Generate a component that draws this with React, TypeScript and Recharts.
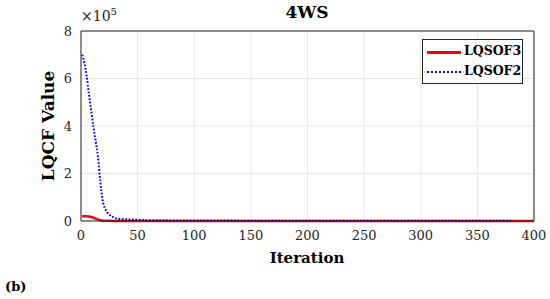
import { LineChart, Line, XAxis, YAxis, CartesianGrid, ReferenceLine } from 'recharts';

// iteration samples (x axis)
const iterations = [1, 3, 5, 7, 9, 11, 13, 15, 17, 19, 21, 23, 25, 28, 31, 35, 40, 45, 50, 60, 70, 80, 100, 150, 200, 250, 300, 350, 380, 400];
// LQSOF2 (blue, dotted), in units of 1e5
const lqsof2 = [7.0, 6.65, 6.1, 5.35, 4.65, 3.95, 3.35, 2.7, 1.7, 0.9, 0.55, 0.38, 0.27, 0.17, 0.11, 0.085, 0.07, 0.06, 0.05, 0.035, 0.03, 0.025, 0.02, 0.015, 0.012, 0.01, 0.01, 0.01, 0.01, null];
// LQSOF3 (red, solid), in units of 1e5
const lqsof3 = [0.2, 0.2, 0.2, 0.19, 0.17, 0.14, 0.1, 0.06, 0.03, 0.015, 0.01, 0.008, 0.006, 0.005, 0.005, 0.004, 0.004, 0.004, 0.003, 0.003, 0.003, 0.003, 0.002, 0.002, 0.002, 0.002, 0.002, 0.002, 0.002, 0.002];

const xTicks = [0, 50, 100, 150, 200, 250, 300, 350, 400];
const yTicks = [0, 2, 4, 6, 8];

const data = iterations.map((it, i) => ({
  it,
  LQSOF2: lqsof2[i] == null ? null : lqsof2[i]! * 1e5,
  LQSOF3: lqsof3[i] * 1e5,
}));

const serif = "'DejaVu Serif', 'Liberation Serif', serif";

// tick text drawn by hand so the serif font sticks
const SerifTick = (props: any) => {
  const { x, y, payload, textAnchor, tickFormatter } = props;
  const label = tickFormatter ? tickFormatter(payload.value) : payload.value;
  return (
    <text x={x} y={y} textAnchor={textAnchor} fill="#262626" fontSize={13} fontFamily="DejaVu Serif" dominantBaseline="central">
      {label}
    </text>
  );
};

export default function App() {
  return (
    <div style={{ position: 'absolute', left: 0, top: 0, width: 550, height: 299, background: '#fff', fontFamily: serif }}>
      <LineChart width={550} height={299} data={data} margin={{ top: 31, right: 16, bottom: 48, left: 21 }}>
        <CartesianGrid stroke="#e6e6e6" strokeWidth={1} />
        <XAxis
          type="number"
          dataKey="it"
          domain={[0, 400]}
          ticks={xTicks}
          height={30}
          tick={(p: any) => <SerifTick {...p} y={p.y + 6} />}
          tickLine={false}
          stroke="#262626"
        />
        <YAxis
          type="number"
          domain={[0, 800000]}
          ticks={yTicks.map((t) => t * 1e5)}
          tick={(p: any) => <SerifTick {...p} x={p.x - 1} tickFormatter={(v: number) => String(v / 1e5)} />}
          width={60}
          tickLine={false}
          stroke="#262626"
        />
        <ReferenceLine y={800000} stroke="#262626" />
        <ReferenceLine x={400} stroke="#262626" />
        <Line dataKey="LQSOF3" stroke="#ff0000" strokeWidth={2.5} dot={false} isAnimationActive={false} type="monotone" />
        <Line dataKey="LQSOF2" stroke="#0000ff" strokeWidth={2} strokeDasharray="1.7 1.7" dot={false} isAnimationActive={false} type="monotone" connectNulls={false} />
      </LineChart>

      <div style={{ position: 'absolute', left: 0, width: 614, top: 2, textAlign: 'center', fontWeight: 'bold', fontSize: 17, color: '#000' }}>4WS</div>
      <div style={{ position: 'absolute', left: 81, top: 6, fontSize: 14, color: '#262626' }}>
        ×10<sup style={{ fontSize: 10 }}>5</sup>
      </div>
      <div
        style={{
          position: 'absolute', left: 48, top: 126, transform: 'translate(-50%, -50%) rotate(-90deg)',
          whiteSpace: 'nowrap', fontWeight: 'bold', fontSize: 17, color: '#000',
        }}
      >
        LQCF Value
      </div>
      <div style={{ position: 'absolute', left: 0, width: 614, top: 249, textAlign: 'center', fontWeight: 'bold', fontSize: 15, color: '#000' }}>Iteration</div>
      <div style={{ position: 'absolute', left: 5, top: 279, fontWeight: 'bold', fontSize: 13, color: '#000' }}>(b)</div>

      <div
        style={{
          position: 'absolute', left: 422, top: 39, width: 101, height: 45, background: '#fff',
          border: '1px solid #262626', boxSizing: 'border-box', fontWeight: 'bold', fontSize: 12.5, color: '#000',
        }}
      >
        <div style={{ position: 'absolute', left: 4, top: 11, width: 34, height: 2.5, background: '#ff0000' }} />
        <div style={{ position: 'absolute', left: 41, top: 3 }}>LQSOF3</div>
        <div style={{ position: 'absolute', left: 4, top: 31, width: 34, height: 0, borderTop: '2px dotted #0000ff' }} />
        <div style={{ position: 'absolute', left: 41, top: 23 }}>LQSOF2</div>
      </div>
    </div>
  );
}
